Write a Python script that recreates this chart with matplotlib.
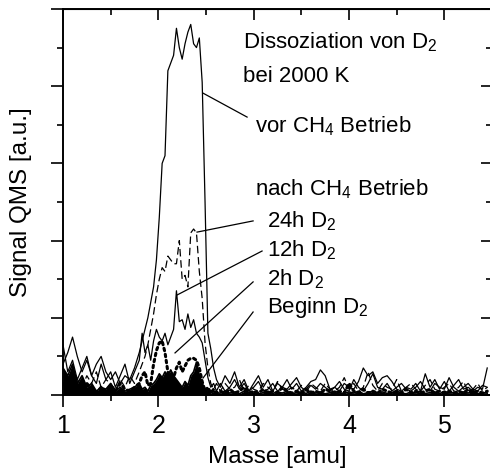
import numpy as np
import matplotlib
matplotlib.use('Agg')
import matplotlib.pyplot as plt

plt.rcParams['font.family'] = ['Liberation Sans', 'DejaVu Sans']
plt.rcParams['mathtext.fontset'] = 'custom'
plt.rcParams['mathtext.rm'] = 'Liberation Sans'

# shared mass grid [amu]
masse = [1.00, 1.05, 1.10, 1.15, 1.20, 1.25, 1.30, 1.35, 1.40, 1.45, 1.50, 1.55, 1.60, 1.65, 1.70, 1.75,
         1.80, 1.83, 1.86, 1.89, 1.92, 1.95, 1.98, 2.01, 2.04, 2.07, 2.10, 2.13, 2.16, 2.19,
         2.22, 2.25, 2.28, 2.31, 2.34, 2.37, 2.40, 2.43, 2.46, 2.49, 2.52, 2.55, 2.58, 2.61,
         2.65, 2.70, 2.75, 2.80, 2.85, 2.90, 2.95, 3.00, 3.05, 3.10,
         3.15, 3.20, 3.25, 3.30, 3.35, 3.40, 3.45, 3.50, 3.55, 3.60,
         3.65, 3.70, 3.75, 3.80, 3.85, 3.90, 3.95, 4.00, 4.05, 4.10,
         4.15, 4.20, 4.25, 4.30, 4.35, 4.40, 4.45, 4.50, 4.55, 4.60,
         4.65, 4.70, 4.75, 4.80, 4.85, 4.90, 4.95, 5.00, 5.05, 5.10,
         5.15, 5.20, 5.25, 5.30, 5.35, 5.40, 5.45]

vor_ch4 = [0.8, 1.1, 1.5, 1.0, 0.6, 0.9, 0.5, 0.8, 1.0, 0.6, 0.4, 0.6, 0.3, 0.5, 0.4, 0.7,
           1.1, 1.4, 1.7, 2.0, 2.4, 2.8, 3.5, 4.6, 6.0, 6.2, 8.4, 8.6, 8.8, 9.5,
           9.0, 8.7, 9.1, 9.4, 9.6, 9.1, 9.0, 9.25, 8.1, 5.0, 1.6, 1.2, 0.7, 0.4,
           0.2, 0.5, 0.3, 0.6, 0.2, 0.4, 0.1, 0.3, 0.5, 0.2,
           0.4, 0.1, 0.3, 0.2, 0.4, 0.15, 0.3, 0.1, 0.2, 0.35,
           0.4, 0.65, 0.5, 0.15, 0.2, 0.1, 0.3, 0.2, 0.15, 0.35,
           0.7, 0.5, 0.6, 0.3, 0.45, 0.5, 0.35, 0.15, 0.1, 0.2,
           0.15, 0.3, 0.1, 0.55, 0.2, 0.4, 0.15, 0.35, 0.1, 0.25,
           0.4, 0.15, 0.2, 0.1, 0.2, 0.15, 0.7]

d2_24h = [0.5, 0.3, 0.7, 0.4, 0.2, 0.5, 0.3, 0.6, 0.2, 0.4, 0.3, 0.1, 0.4, 0.2, 0.5, 0.3,
          0.6, 0.8, 1.0, 1.3, 1.7, 2.1, 2.6, 3.0, 3.3, 3.2, 3.6, 3.5, 3.4, 3.4,
          4.0, 3.0, 3.1, 2.8, 4.2, 4.3, 4.2, 3.2, 2.5, 1.35, 0.7, 0.3, 0.15, 0.3,
          0.1, 0.3, 0.15, 0.2, 0.4, 0.1, 0.25, 0.15, 0.1, 0.3,
          0.2, 0.1, 0.35, 0.15, 0.1, 0.2, 0.1, 0.25, 0.15, 0.3,
          0.2, 0.1, 0.3, 0.15, 0.1, 0.2, 0.45, 0.15, 0.3, 0.1,
          0.2, 0.6, 0.25, 0.1, 0.3, 0.2, 0.15, 0.4, 0.1, 0.2,
          0.3, 0.15, 0.1, 0.25, 0.4, 0.15, 0.1, 0.2, 0.3, 0.1,
          0.2, 0.35, 0.1, 0.15, 0.3, 0.1, 0.2]

d2_12h = [1.3, 0.6, 0.9, 0.4, 0.7, 1.0, 0.5, 0.3, 0.8, 0.4, 0.6, 0.2, 0.5, 0.8, 0.3, 0.6,
          0.9, 1.6, 1.1, 1.3, 0.9, 1.4, 1.7, 1.5, 1.4, 1.6, 1.3, 1.5, 1.7, 2.7,
          1.9, 1.95, 1.7, 2.1, 1.75, 1.95, 1.6, 1.5, 1.35, 0.9, 0.45, 0.2, 0.3, 0.1,
          0.3, 0.1, 0.2, 0.4, 0.15, 0.3, 0.1, 0.2, 0.35, 0.1,
          0.15, 0.3, 0.1, 0.2, 0.15, 0.3, 0.45, 0.2, 0.1, 0.25,
          0.15, 0.3, 0.2, 0.1, 0.2, 0.35, 0.15, 0.1, 0.4, 0.2,
          0.1, 0.3, 0.55, 0.2, 0.15, 0.3, 0.1, 0.2, 0.3, 0.15,
          0.1, 0.2, 0.35, 0.15, 0.1, 0.3, 0.2, 0.15, 0.45, 0.2,
          0.1, 0.2, 0.3, 0.15, 0.1, 0.25, 0.2]

d2_2h = [0.3, 0.15, 0.4, 0.2, 0.1, 0.3, 0.15, 0.05, 0.2, 0.1, 0.25, 0.1, 0.3, 0.15, 0.1, 0.2,
         0.3, 0.5, 0.6, 0.25, 0.3, 0.8, 1.15, 1.35, 1.4, 1.1, 0.6, 0.25, 0.45, 0.7,
         0.85, 0.6, 0.75, 0.9, 0.95, 0.95, 0.9, 0.7, 0.35, 0.1, 0.2, 0.05, 0.15, 0.05,
         0.1, 0.05, 0.15, 0.05, 0.1, 0.2, 0.05, 0.1, 0.05, 0.15,
         0.05, 0.1, 0.05, 0.2, 0.1, 0.05, 0.1, 0.05, 0.15, 0.05,
         0.1, 0.05, 0.15, 0.1, 0.05, 0.1, 0.05, 0.3, 0.1, 0.05,
         0.15, 0.05, 0.1, 0.05, 0.15, 0.1, 0.05, 0.1, 0.05, 0.15,
         0.05, 0.1, 0.05, 0.1, 0.15, 0.05, 0.1, 0.05, 0.1, 0.05,
         0.1, 0.05, 0.15, 0.05, 0.1, 0.05, 0.1]

beginn = [0.7, 0.5, 0.8, 0.3, 0.5, 0.2, 0.3, 0.1, 0.2, 0.15, 0.3, 0.1, 0.2, 0.1, 0.15, 0.2,
          0.3, 0.15, 0.2, 0.1, 0.25, 0.3, 0.4, 0.55, 0.45, 0.6, 0.5, 0.65, 0.5, 0.4,
          0.3, 0.2, 0.35, 0.25, 0.5, 0.6, 0.85, 0.5, 0.3, 0.15, 0.1, 0.05, 0.1, 0.05,
          0.05, 0.1, 0.05, 0.08, 0.03, 0.1, 0.05, 0.08, 0.03, 0.06,
          0.1, 0.04, 0.08, 0.05, 0.1, 0.03, 0.06, 0.08, 0.04, 0.1,
          0.05, 0.08, 0.03, 0.06, 0.1, 0.05, 0.04, 0.08, 0.05, 0.1,
          0.03, 0.06, 0.1, 0.05, 0.08, 0.04, 0.06, 0.1, 0.05, 0.03,
          0.08, 0.05, 0.1, 0.04, 0.06, 0.08, 0.03, 0.1, 0.05, 0.06,
          0.04, 0.08, 0.05, 0.1, 0.03, 0.06, 0.05]

fig = plt.figure(figsize=(4.9, 4.72), dpi=100)
ax = fig.add_axes([63 / 490, 77 / 472, 429 / 490, 386 / 472])

ax.fill_between(masse, 0, beginn, color='black', lw=0)
ax.plot(masse, beginn, color='black', lw=1.2)
ax.plot(masse, d2_2h, color='black', lw=2.2, linestyle=(0, (0.8, 1.2)), dash_capstyle='round')
ax.plot(masse, d2_12h, color='black', lw=0.9)
ax.plot(masse, d2_24h, color='black', lw=0.9, linestyle=(0, (6, 3)))
ax.plot(masse, vor_ch4, color='black', lw=0.9)

ax.set_xlim(1, 5.5)
ax.set_ylim(0, 10)
ax.set_xticks([1, 2, 3, 4, 5])
ax.set_xticks([1.5, 2.5, 3.5, 4.5, 5.5], minor=True)
ax.set_yticks([0, 2, 4, 6, 8, 10])
ax.set_yticks([1, 3, 5, 7, 9], minor=True)
ax.set_yticklabels([])
ax.tick_params(which='major', direction='out', length=8.5, width=1.2, labelsize=18, pad=5)
ax.tick_params(which='minor', direction='out', length=4.5, width=1.2)
for s in ax.spines.values():
    s.set_linewidth(1.4)
ax.spines['right'].set_visible(False)

top = ax.secondary_xaxis('top')
top.set_xticks([1, 2, 3, 4, 5])
top.set_xticks([1.5, 2.5, 3.5, 4.5, 5.5], minor=True)
top.tick_params(which='major', direction='in', length=8, width=1.2, labeltop=False)
top.tick_params(which='minor', direction='in', length=4.5, width=1.2)
right = ax.secondary_yaxis('right')
right.set_yticks([0, 2, 4, 6, 8, 10])
right.set_yticks([1, 3, 5, 7, 9], minor=True)
right.tick_params(which='major', direction='in', length=8, width=1.2, labelright=False)
right.tick_params(which='minor', direction='in', length=4, width=1.2)
right.spines['right'].set_visible(False)

ax.set_xlabel('Masse [amu]', fontsize=17.5, labelpad=6)
ax.set_ylabel('Signal QMS [a.u.]', fontsize=17.5)
ax.yaxis.set_label_coords(-0.073, 0.5)

fs = 16
ax.text(2.889, 8.99, 'Dissoziation von D$_\\mathregular{2}$', fontsize=fs, va='baseline')
ax.text(2.889, 8.11, 'bei 2000 K', fontsize=fs, va='baseline')
ax.text(3.015, 6.81, 'vor CH$_\\mathregular{4}$ Betrieb', fontsize=fs, va='baseline')
ax.text(3.015, 5.18, 'nach CH$_\\mathregular{4}$ Betrieb', fontsize=fs, va='baseline')
ax.text(3.14, 4.35, '24h D$_\\mathregular{2}$', fontsize=fs, va='baseline')
ax.text(3.14, 3.60, '12h D$_\\mathregular{2}$', fontsize=fs, va='baseline')
ax.text(3.14, 2.85, '2h D$_\\mathregular{2}$', fontsize=fs, va='baseline')
ax.text(3.14, 2.12, 'Beginn D$_\\mathregular{2}$', fontsize=fs, va='baseline')

# leader lines
ax.plot([2.469, 2.931], [7.82, 7.20], color='black', lw=0.9)
ax.plot([2.406, 2.994], [4.22, 4.51], color='black', lw=0.9)
ax.plot([2.196, 3.088], [2.59, 3.73], color='black', lw=0.9)
ax.plot([2.175, 2.994], [1.09, 2.93], color='black', lw=0.9)
ax.plot([2.469, 2.994], [0.44, 2.15], color='black', lw=0.9)

fig.savefig('out.png', dpi=100)
